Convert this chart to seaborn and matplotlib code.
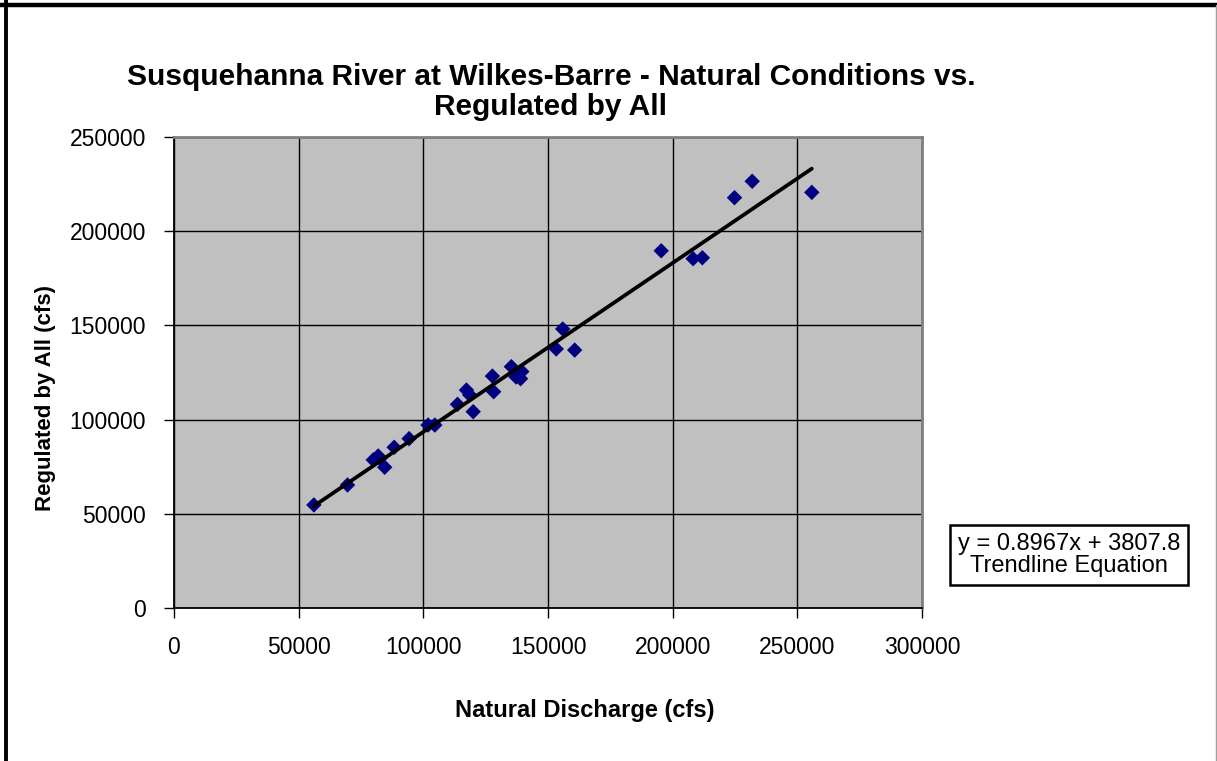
import matplotlib
matplotlib.use("Agg")
import matplotlib.pyplot as plt
from matplotlib.lines import Line2D
import numpy as np
import pandas as pd
import seaborn as sns

# Paired peak flows: natural discharge vs. flow regulated by all reservoirs (cfs)
natural_cfs = [56100, 69600, 79900, 81900, 82600, 84500, 88300, 94300,
               101900, 104600, 113700, 117300, 118600, 120000, 127700,
               128200, 135300, 137200, 139000, 139500, 153300, 155900,
               160700, 195400, 208200, 211900, 224800, 231900, 255800]
regulated_cfs = [54700, 65300, 78600, 80700, 79400, 74700, 85300, 89900,
                 97100, 97100, 108100, 115700, 113100, 104200, 123100,
                 114800, 128100, 122600, 121700, 125500, 137500, 148100,
                 136900, 189600, 185400, 185900, 217800, 226500, 220600]

# Linear trendline fitted to the pairs
trend_slope = 0.8967
trend_intercept = 3807.8

x_ticks = [0, 50000, 100000, 150000, 200000, 250000, 300000]
y_ticks = [0, 50000, 100000, 150000, 200000, 250000]

title = "Susquehanna River at Wilkes-Barre - Natural Conditions vs.\nRegulated by All"
x_label = "Natural Discharge (cfs)"
y_label = "Regulated by All (cfs)"
equation_text = f"y = {trend_slope}x + {trend_intercept}\nTrendline Equation"

sns.set_theme(style="white")
plt.rcParams['font.family'] = ['Liberation Sans', 'DejaVu Sans']
plt.rcParams['text.color'] = 'black'

W, H = 1217, 761
fig = plt.figure(figsize=(W / 100, H / 100), dpi=100)
ax = fig.add_axes([174 / W, 1 - 608 / H, (922 - 174) / W, (608 - 137) / H])
ax.set_facecolor('#C0C0C0')

points = pd.DataFrame({'natural': natural_cfs, 'regulated': regulated_cfs})
trend_x = np.array([min(natural_cfs), max(natural_cfs)], dtype=float)
trend = pd.DataFrame({'natural': trend_x,
                      'regulated': trend_slope * trend_x + trend_intercept})

sns.scatterplot(data=points, x='natural', y='regulated', marker='D', s=62,
                color='#000080', edgecolor='none', linewidth=0, ax=ax, zorder=3)
sns.lineplot(data=trend, x='natural', y='regulated', color='black',
             linewidth=2.7, ax=ax, zorder=4)

ax.set_xlim(x_ticks[0], x_ticks[-1])
ax.set_ylim(y_ticks[0], y_ticks[-1])
ax.set_xticks(x_ticks)
ax.set_yticks(y_ticks)
ax.set_xticklabels([str(t) for t in x_ticks])
ax.set_yticklabels([str(t) for t in y_ticks])

ax.set_axisbelow(True)
ax.grid(True, color='black', linewidth=1.0)
for side in ('left', 'bottom'):
    ax.spines[side].set_color('black')
    ax.spines[side].set_linewidth(1.3)
for side in ('top', 'right'):
    ax.spines[side].set_color('#808080')
    ax.spines[side].set_linewidth(2.0)

ax.tick_params(axis='both', direction='out', length=7, width=1, color='black',
               labelsize=16.5, labelcolor='black', pad=13,
               bottom=True, left=True)
ax.set_xlabel("")
ax.set_ylabel("")

fig.text(551 / W, 1 - 92 / H, title, ha='center', va='center', color='black',
         fontsize=21.5, fontweight='bold', linespacing=1.1)
fig.text(585 / W, 1 - 710 / H, x_label, ha='center', va='center', color='black',
         fontsize=17, fontweight='bold')
fig.text(46 / W, 1 - 398 / H, y_label, ha='center', va='center', color='black',
         rotation=90, fontsize=16, fontweight='bold')

fig.text(1069 / W, 1 - 555 / H, equation_text, ha='center', va='center',
         color='black', fontsize=17, linespacing=0.95,
         bbox=dict(boxstyle='square,pad=0.35', facecolor='white',
                   edgecolor='black', linewidth=1.8))

# Chart-area frame
fig.add_artist(Line2D([0, 1], [1 - 4.5 / H, 1 - 4.5 / H], color='black',
                      linewidth=3.2, transform=fig.transFigure))
fig.add_artist(Line2D([5.5 / W, 5.5 / W], [0, 1], color='black',
                      linewidth=2.8, transform=fig.transFigure))
fig.add_artist(Line2D([1215.5 / W, 1215.5 / W], [0, 1 - 4.5 / H], color='#A0A0A0',
                      linewidth=1.0, transform=fig.transFigure))

fig.savefig("out.png", dpi=100)
